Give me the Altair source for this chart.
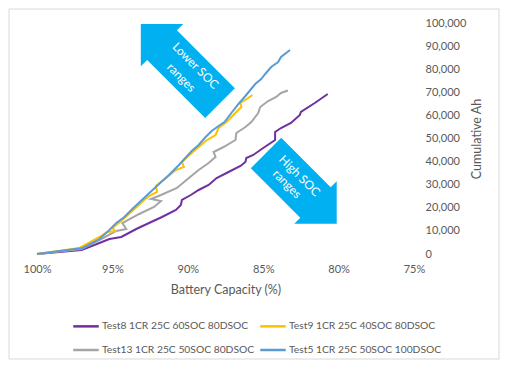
import altair as alt
import pandas as pd

# ---------------- data ----------------
series_names = [
    "Test8 1CR 25C 60SOC 80DSOC",
    "Test9 1CR 25C 40SOC 80DSOC",
    "Test13 1CR 25C 50SOC 80DSOC",
    "Test5 1CR 25C 50SOC 100DSOC",
]
series_colors = ["#7030A0", "#FFC000", "#A5A5A5", "#5B9BD5"]

test8_cap = [100, 97.04, 95.86, 95.20, 94.41, 93.42, 92.57, 91.71, 90.79, 90.46, 90.39, 89.80,
             89.28, 88.62, 88.09, 87.30, 86.51, 86.18, 86.12, 85.66, 85.00, 84.21, 84.21, 83.82,
             83.16, 82.57, 82.50, 81.58, 80.72]
test8_ah = [0, 1730, 4760, 6490, 7360, 10820, 13420, 16020, 19050, 21210, 23380, 25540,
            27710, 29870, 32900, 35500, 38100, 39830, 41560, 42860, 45890, 49350, 52810, 54550,
            56710, 60170, 61470, 65370, 69260]

test13_cap = [100, 97.04, 95.86, 94.74, 94.08, 94.34, 93.22, 92.24, 91.78, 92.43, 91.78, 90.72,
              89.93, 89.28, 88.62, 88.16, 88.29, 87.63, 86.84, 86.78, 86.18, 85.79, 85.33, 85.20,
              84.67, 84.14, 83.82, 83.36]
test13_ah = [0, 2200, 6060, 9960, 10820, 13420, 17320, 20350, 22940, 23810, 25540, 28570,
             32900, 36360, 39390, 41990, 44160, 46320, 49350, 52380, 54980, 57140, 61040, 63640,
             66230, 67970, 69700, 70780]

test9_cap = [100, 97.17, 95.86, 95.33, 94.80, 95.00, 94.34, 93.68, 92.89, 92.57, 92.04, 92.11,
             91.45, 90.79, 90.26, 90.39, 89.74, 89.28, 88.82, 88.16, 87.96, 87.43, 86.78, 86.45,
             86.51, 85.99, 85.72]
test9_ah = [0, 2600, 7360, 9520, 9960, 11260, 14720, 18610, 23380, 25110, 26840, 29440,
            32900, 36360, 37660, 39830, 43720, 46320, 48920, 51520, 54550, 57140, 61470, 63640,
            65370, 67530, 68830]

test5_cap = [100, 98.49, 96.97, 95.86, 95.20, 94.74, 94.21, 93.68, 92.76, 91.91, 91.25, 90.59,
             89.74, 89.28, 88.82, 88.42, 87.96, 87.57, 87.11, 86.64, 86.18, 85.53, 85.13, 84.87,
             84.47, 84.01, 83.82, 83.22]
test5_ah = [0, 1300, 2600, 6490, 10390, 13420, 16020, 19480, 25110, 30300, 34200, 38530,
            44590, 47190, 50650, 53250, 55410, 57140, 61040, 64940, 68400, 73590, 75760, 77920,
            80950, 83120, 85280, 88310]

x_ticks = [100, 95, 90, 85, 80, 75]
y_ticks = [0, 10000, 20000, 30000, 40000, 50000, 60000, 70000, 80000, 90000, 100000]

# annotation arrows (centre positions in data units)
arrow_cap = [90.49, 82.47]
arrow_ah = [82470, 28440]
# annotation text lines
note_text = ["Lower SOC", "ranges", "High SOC", "ranges"]
note_cap = [89.49, 90.43, 82.59, 83.42]
note_ah = [81470, 76410, 33850, 30300]

# ---------------- build tables ----------------
rows = []
for name, caps, ahs in [
    (series_names[0], test8_cap, test8_ah),
    (series_names[2], test13_cap, test13_ah),
    (series_names[1], test9_cap, test9_ah),
    (series_names[3], test5_cap, test5_ah),
]:
    for i, (c, a) in enumerate(zip(caps, ahs)):
        rows.append({"series": name, "cap": c, "ah": a, "idx": i})
df = pd.DataFrame(rows)

arrows = pd.DataFrame({"cap": arrow_cap, "ah": arrow_ah, "k": [0, 1]})
notes = pd.DataFrame({"cap": note_cap, "ah": note_ah, "txt": note_text})

FONT = "Lato"
GREY = "#595959"

xscale = alt.Scale(domain=[75, 100], reverse=True, nice=False, zero=False)
yscale = alt.Scale(domain=[0, 100000], nice=False)

x_axis = alt.Axis(values=x_ticks, labelExpr="datum.value + '%'",
                  title="Battery Capacity (%)", grid=False, domain=False,
                  ticks=False, labelPadding=9, titlePadding=9,
                  labelFontSize=11, titleFontSize=12.5,
                  labelColor=GREY, titleColor=GREY, labelFlush=False,
                  labelOverlap=False,
                  titleFontWeight="normal", labelFont=FONT, titleFont=FONT)
y_axis = alt.Axis(values=y_ticks, format=",.0f", orient="right",
                  title="Cumulative Ah", grid=False, domain=False, ticks=False,
                  labelAlign="left", labelPadding=11, titlePadding=18,
                  titleAngle=270, labelFontSize=11, titleFontSize=12.5,
                  labelColor=GREY, titleColor=GREY, titleFontWeight="normal",
                  labelFlush=False, labelOverlap=False,
                  labelFont=FONT, titleFont=FONT)

x_enc = alt.X("cap:Q", scale=xscale, axis=x_axis)
y_enc = alt.Y("ah:Q", scale=yscale, axis=y_axis)

lines = alt.Chart(df).mark_line(strokeWidth=2).encode(
    x=x_enc,
    y=y_enc,
    color=alt.Color("series:N",
                    scale=alt.Scale(domain=series_names, range=series_colors),
                    legend=alt.Legend(title=None, orient="none", legendX=35, legendY=289,
                                      columns=2, columnPadding=0, rowPadding=4,
                                      symbolType="stroke", symbolSize=650,
                                      symbolStrokeWidth=2.5, labelFontSize=10.3,
                                      labelFont=FONT, labelColor=GREY, labelOffset=2,
                                      labelLimit=400, direction="horizontal")),
    order=alt.Order("idx:Q"),
)

path1 = "M -1 -0.375 L 0.464 -0.375 L 0.464 -0.536 L 1 0 L 0.464 0.536 L 0.464 0.375 L -1 0.375 Z"
path2 = "M -1 -0.43 L 0.4 -0.43 L 0.4 -0.6 L 1 0 L 0.4 0.6 L 0.4 0.43 L -1 0.43 Z"

arrow1 = alt.Chart(arrows).transform_filter("datum.k == 0").mark_point(
    shape=path1, size=12544, angle=225, filled=True, fill="#00B0F0", opacity=1,
    strokeWidth=0).encode(x=x_enc, y=y_enc)
arrow2 = alt.Chart(arrows).transform_filter("datum.k == 1").mark_point(
    shape=path2, size=10000, angle=45, filled=True, fill="#00B0F0", opacity=1,
    strokeWidth=0).encode(x=x_enc, y=y_enc)

texts = alt.Chart(notes).mark_text(
    angle=45, color="white", font=FONT, fontSize=12,
    align="center", baseline="middle").encode(x=x_enc, y=y_enc, text="txt:N")

border = alt.Chart(pd.DataFrame({"a": [0]})).mark_rect(
    fill=None, stroke="#D9D9D9", strokeWidth=1).encode(
    x=alt.value(-28), x2=alt.value(462), y=alt.value(-14), y2=alt.value(336))

chart = alt.layer(border, lines, arrow1, arrow2, texts).properties(
    width=377, height=231,
    autosize=alt.AutoSizeParams(type="none"),
    padding={"left": 29, "top": 15, "right": 86, "bottom": 106},
    background="white",
).configure_view(stroke=None)

chart.save("out.html", embed_options={"renderer": "svg", "actions": False})
